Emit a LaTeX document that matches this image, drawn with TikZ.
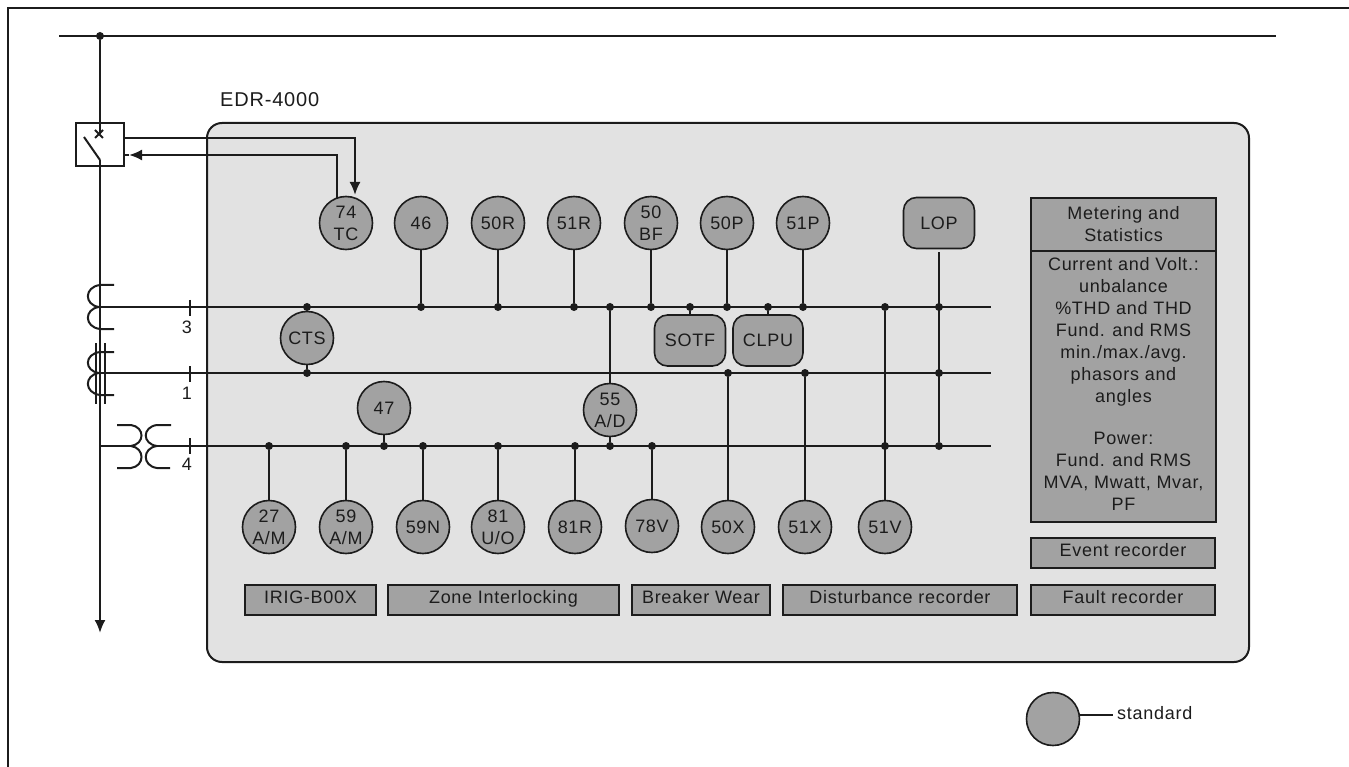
\documentclass[tikz,border=0pt]{standalone}
\usepackage{fontspec}
\usepackage{tikz}
\usepackage{xcolor}
\usetikzlibrary{arrows.meta, calc}
\setmainfont{Liberation Sans}[LetterSpace=4]
\definecolor{EDR_Panel}{HTML}{E2E2E2}
\definecolor{EDR_Fill}{HTML}{A2A2A2}
\definecolor{EDR_Line}{HTML}{1C1C1C}
\tikzset{
    wire/.style={draw=EDR_Line, line width=2pt},
    lbl/.style={font=\fontsize{18}{22}\selectfont, text=EDR_Line, align=center, inner sep=0pt},
    relay/.style={lbl, circle, draw=EDR_Line, line width=1.6pt, fill=EDR_Fill, minimum size=53pt},
    logic/.style={lbl, rectangle, rounded corners=13pt, draw=EDR_Line, line width=1.6pt, fill=EDR_Fill, minimum height=51pt},
    func/.style={lbl, rectangle, draw=EDR_Line, line width=2pt, fill=EDR_Fill, minimum height=30pt, text height=13pt, text depth=6pt},
    junction/.style={circle, fill=EDR_Line, inner sep=0pt, minimum size=8pt},
    bigtip/.style={-{Latex[length=13pt, width=11pt]}}
}
\begin{document}
\begin{tikzpicture}[x=1pt, y=-1pt]
    \useasboundingbox (0,0) rectangle (1349,767);

    % Frame
    \draw[wire] (8,767) -- (8,8) -- (1349,8);

    % Device panel
    \node[draw=EDR_Line, line width=2pt, fill=EDR_Panel, rounded corners=15pt, minimum width=1042pt, minimum height=539pt, inner sep=0pt] (panel) at (728,392.5) {};
    \node[lbl, font=\fontsize{20}{22}\selectfont, anchor=west] (title) at (220,100) {EDR-4000};

    % Line side
    \coordinate (mainW) at (59,36);
    \coordinate (mainE) at (1276,36);
    \node[junction] (mainJ) at (100,36) {};
    \draw[wire] (mainW) -- (mainE);
    \node[draw=EDR_Line, line width=2pt, minimum width=48pt, minimum height=43pt, inner sep=0pt] (brk) at (100,144.5) {};
    \coordinate (brkTop) at (100,134);
    \coordinate (brkPivot) at (100,160);
    \coordinate (brkBlade) at (84,137);
    \coordinate (lineEnd) at (100,633);
    \draw[wire] (mainJ) -- (brkTop);
    \draw[wire] (95,130) -- (103,138) (103,130) -- (95,138);
    \draw[wire] (brkBlade) -- (brkPivot);
    \draw[wire, bigtip] (brkPivot) -- (lineEnd);

    % Measuring buses
    \coordinate (busA) at (100,307);
    \coordinate (busAe) at (991,307);
    \coordinate (busB) at (100,373);
    \coordinate (busBe) at (991,373);
    \coordinate (busC) at (100,446);
    \coordinate (busCe) at (991,446);
    \coordinate (busCm) at (131,446);
    \coordinate (busCs) at (156,446);
    \draw[wire] (busA) -- (busAe);
    \draw[wire] (busB) -- (busBe);
    \draw[wire] (busC) -- (busCm);
    \draw[wire] (busCs) -- (busCe);

    % CT 3
    \draw[wire] (114,285) -- (100,285) .. controls (84,287) and (84,305) .. (99,307)
        .. controls (84,309) and (84,327) .. (100,329) -- (114,329);
    % CT 1
    \draw[wire] (114,352) -- (100,352) .. controls (84,354) and (84,371) .. (99,373)
        .. controls (84,375) and (84,393) .. (100,395) -- (114,395);
    \draw[wire] (96,343) -- (96,404);
    \draw[wire] (105,343) -- (105,404);
    % VT 4
    \draw[wire] (117,425) -- (131,425) .. controls (145,427) and (145,444) .. (131,446)
        .. controls (145,448) and (145,466) .. (131,468) -- (117,468);
    \draw[wire] (171,425) -- (157,425) .. controls (142,427) and (142,444) .. (157,446)
        .. controls (142,448) and (142,466) .. (157,468) -- (170,468);

    % Ticks
    \draw[wire] (190,300) -- (190,316);
    \draw[wire] (190,366) -- (190,382);
    \draw[wire] (190,438) -- (190,454);
    \node[lbl] (n3) at (187,327) {3};
    \node[lbl] (n1) at (187,393) {1};
    \node[lbl] (n4) at (187,464) {4};

    % Upper row
    \node[relay] (r74) at (346,223) {74\\TC};
    \node[relay] (r46) at (421,223) {46};
    \node[relay] (r50R) at (498,223) {50R};
    \node[relay] (r51R) at (574,223) {51R};
    \node[relay] (r50BF) at (651,223) {50\\BF};
    \node[relay] (r50P) at (727,223) {50P};
    \node[relay] (r51P) at (803,223) {51P};
    \node[logic, minimum width=71pt] (lop) at (939,223) {LOP};

    % Middle row
    \node[relay] (rCTS) at (307,338) {CTS};
    \node[relay] (r47) at (384,408) {47};
    \node[relay] (r55) at (610,410) {55\\A/D};
    \node[logic, minimum width=71pt] (sotf) at (690,340.5) {SOTF};
    \node[logic, minimum width=70pt] (clpu) at (768,340.5) {CLPU};

    % Lower row
    \node[relay] (r27) at (269,527) {27\\A/M};
    \node[relay] (r59) at (346,527) {59\\A/M};
    \node[relay] (r59N) at (423,527) {59N};
    \node[relay] (r81) at (498,527) {81\\U/O};
    \node[relay] (r81R) at (575,527) {81R};
    \node[relay] (r78) at (652,526) {78V};
    \node[relay] (r50X) at (728,527) {50X};
    \node[relay] (r51X) at (805,527) {51X};
    \node[relay] (r51V) at (885,527) {51V};

    % Junctions on the upper bus
    \foreach \n in {r46,r50R,r51R,r50BF,r50P,r51P,rCTS,sotf,clpu,r55,r51V,lop}
        \node[junction] (a\n) at (\n |- busA) {};
    \foreach \n in {r46,r50R,r51R,r50BF,r50P,r51P}
        \draw[wire] (\n) -- (a\n);
    \draw[wire] (sotf) -- (asotf);
    \draw[wire] (clpu) -- (aclpu);
    \draw[wire] (rCTS) -- (arCTS);
    \draw[wire] (r55) -- (ar55);

    % Junctions on the middle bus
    \foreach \n in {rCTS,r50X,r51X,lop}
        \node[junction] (b\n) at (\n |- busB) {};
    \draw[wire] (rCTS) -- (brCTS);
    \draw[wire] (r50X) -- (br50X);
    \draw[wire] (r51X) -- (br51X);

    % Junctions on the lower bus
    \foreach \n in {r27,r59,r47,r59N,r81,r81R,r55,r78,r51V,lop}
        \node[junction] (c\n) at (\n |- busC) {};
    \foreach \n in {r27,r59,r47,r59N,r81,r81R,r55,r78}
        \draw[wire] (\n) -- (c\n);
    \draw[wire] (r51V) -- (ar51V);
    \draw[wire, shorten <=3pt] (lop) -- (clop);

    % Breaker control
    \coordinate (trip) at (124,138);
    \coordinate (tripEnd) at (355,195);
    \coordinate (closeStart) at (337,199);
    \coordinate (closeTip) at (129,155);
    \coordinate (closeEnd) at (124,155);
    \draw[wire, bigtip] (trip) -| (tripEnd);
    \draw[wire, bigtip] (closeStart) |- (closeTip);
    \draw[wire] (closeTip) -- (closeEnd);

    % Function boxes
    \node[func, minimum width=131pt] (irig) at (310.5,600) {IRIG-B00X};
    \node[func, minimum width=231pt] (zone) at (503.5,600) {Zone Interlocking};
    \node[func, minimum width=138pt] (wear) at (701,600) {Breaker Wear};
    \node[func, minimum width=234pt] (dist) at (900,600) {Disturbance recorder};
    \node[func, minimum width=184pt] (fault) at (1123,600) {Fault recorder};
    \node[func, minimum width=184pt] (event) at (1123,553) {Event recorder};

    % Metering
    \node[lbl, draw=EDR_Line, line width=2pt, fill=EDR_Fill, minimum width=185pt, minimum height=53pt] (meterhead) at (1123.5,224.5) {Metering and\\Statistics};
    \node[draw=EDR_Line, line width=2pt, fill=EDR_Fill, minimum width=185pt, minimum height=271pt, inner sep=0pt] (meterbody) at (1123.5,386.5) {};
    \node[lbl] (metertext) at (1123.5,384) {Current and Volt.:\\unbalance\\\%THD and THD\\Fund. and RMS\\min./max./avg.\\phasors and\\angles\\[20pt]Power:\\Fund. and RMS\\MVA, Mwatt, Mvar,\\PF};

    % Legend
    \node[relay] (legend) at (1053,719) {};
    \node[lbl, anchor=west] (std) at (1117,713) {standard};
    \coordinate (stdEnd) at (1113,715);
    \draw[wire] (legend.east |- stdEnd) -- (stdEnd);
\end{tikzpicture}
\end{document}
